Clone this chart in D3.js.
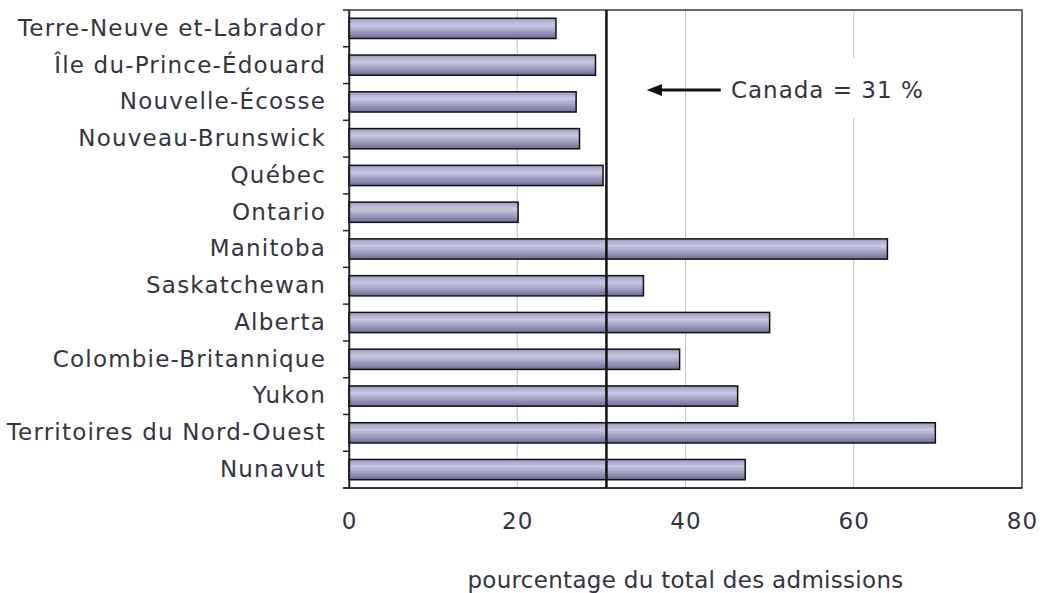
<!DOCTYPE html>
<html>
<head>
<meta charset="utf-8">
<script src="https://cdn.jsdelivr.net/npm/d3@7"></script>
<style>
  body { margin: 0; background: #fff; }
  text { font-family: "DejaVu Sans", Verdana, sans-serif; fill: #34343f; }
</style>
</head>
<body>
<div class="canva"></div>
<script>
// provinces / territories, top to bottom
var provinces = [
  "Terre-Neuve et-Labrador",
  "Île du-Prince-Édouard",
  "Nouvelle-Écosse",
  "Nouveau-Brunswick",
  "Québec",
  "Ontario",
  "Manitoba",
  "Saskatchewan",
  "Alberta",
  "Colombie-Britannique",
  "Yukon",
  "Territoires du Nord-Ouest",
  "Nunavut"
];

// pourcentage du total des admissions
var percents = [24.6, 29.3, 27.0, 27.4, 30.2, 20.1, 64.0, 35.0, 50.0, 39.3, 46.2, 69.7, 47.1];

var xTicks = [0, 20, 40, 60, 80];
var canadaValue = 30.6;
var canadaLabel = "Canada = 31 %";
var xTitle = "pourcentage du total des admissions";

const canvas = d3.select(".canva");
const svg = canvas.append("svg")
    .attr("width", 1040)
    .attr("height", 593);

const margin = {top: 10, right: 18, bottom: 105, left: 349};
const graphWidth = 1040 - margin.left - margin.right;
const graphHeight = 593 - margin.top - margin.bottom;

// gradient for bars (lighter in the middle, darker at the bottom)
var defs = svg.append("defs");
var grad = defs.append("linearGradient")
    .attr("id", "barGrad")
    .attr("x1", 0).attr("y1", 0).attr("x2", 0).attr("y2", 1);
grad.append("stop").attr("offset", "0%").attr("stop-color", "#9c9cc6");
grad.append("stop").attr("offset", "35%").attr("stop-color", "#c9c9e2");
grad.append("stop").attr("offset", "100%").attr("stop-color", "#6c6c98");

const g = svg.append("g")
    .attr("transform", `translate(${margin.left}, ${margin.top})`);

var x = d3.scaleLinear()
    .domain([0, 80])
    .range([0, graphWidth]);

var y = d3.scaleBand()
    .domain(provinces)
    .range([0, graphHeight])
    .paddingInner(0.45)
    .paddingOuter(0.225);

// gridlines
g.selectAll(".grid")
    .data(xTicks.slice(1, -1))
    .enter()
    .append("line")
    .attr("x1", d => x(d))
    .attr("x2", d => x(d))
    .attr("y1", 0)
    .attr("y2", graphHeight)
    .attr("stroke", "#c4c4c4")
    .attr("stroke-width", 1);

// plot border
g.append("rect")
    .attr("x", 0)
    .attr("y", 0)
    .attr("width", graphWidth)
    .attr("height", graphHeight)
    .attr("fill", "none")
    .attr("stroke", "#3a3a3a")
    .attr("stroke-width", 1.5);

// bars
g.selectAll(".bar")
    .data(percents)
    .enter()
    .append("rect")
    .attr("class", "bar")
    .attr("x", x(0))
    .attr("y", (d, i) => y(provinces[i]))
    .attr("width", d => x(d))
    .attr("height", y.bandwidth())
    .attr("fill", "url(#barGrad)")
    .attr("stroke", "#111")
    .attr("stroke-width", 1.5);

// Canada average line
g.append("line")
    .attr("x1", x(canadaValue))
    .attr("x2", x(canadaValue))
    .attr("y1", 0)
    .attr("y2", graphHeight)
    .attr("stroke", "#111")
    .attr("stroke-width", 2.5);

// annotation box + arrow
g.append("rect")
    .attr("x", x(44.1))
    .attr("y", 48)
    .attr("width", 215)
    .attr("height", 60)
    .attr("fill", "#fff");

g.append("line")
    .attr("x1", x(44.2))
    .attr("x2", x(36.2))
    .attr("y1", 80)
    .attr("y2", 80)
    .attr("stroke", "#111")
    .attr("stroke-width", 3);

g.append("path")
    .attr("d", `M${x(35.4)},80 L${x(37.2)},74 L${x(37.2)},86 Z`)
    .attr("fill", "#111");

g.append("text")
    .attr("x", x(45.4))
    .attr("y", 80)
    .attr("dy", "0.35em")
    .style("font-size", "23px")
    .style("letter-spacing", "1px")
    .text(canadaLabel);

// left axis: labels only, ticks drawn between categories
var yAxis = d3.axisLeft(y).tickSize(0).tickPadding(23);
var yG = g.append("g").call(yAxis);
yG.select(".domain").attr("stroke", "#222").attr("stroke-width", 1.5);
yG.selectAll("text")
    .style("font-size", "23px")
    .style("letter-spacing", "1.2px")
    .attr("fill", "#34343f");

g.selectAll(".ytick")
    .data(d3.range(0, provinces.length + 1))
    .enter()
    .append("line")
    .attr("x1", -6)
    .attr("x2", 0)
    .attr("y1", i => i * graphHeight / provinces.length)
    .attr("y2", i => i * graphHeight / provinces.length)
    .attr("stroke", "#222")
    .attr("stroke-width", 1.5);

// bottom axis
var xAxis = d3.axisBottom(x)
    .tickValues(xTicks)
    .tickSize(0)
    .tickPadding(25);
var xG = g.append("g")
    .attr("transform", "translate(0," + graphHeight + ")")
    .call(xAxis);
xG.select(".domain").remove();
xG.selectAll("text")
    .style("font-size", "23px")
    .style("letter-spacing", "1px")
    .attr("fill", "#34343f");

g.append("line")
    .attr("x1", -6)
    .attr("x2", graphWidth)
    .attr("y1", graphHeight)
    .attr("y2", graphHeight)
    .attr("stroke", "#222")
    .attr("stroke-width", 1.5);

svg.append("text")
    .attr("x", margin.left + graphWidth / 2)
    .attr("y", 580)
    .attr("dy", "0.35em")
    .attr("text-anchor", "middle")
    .style("font-size", "23px")
    .style("letter-spacing", "0.3px")
    .text(xTitle);
</script>
</body>
</html>
